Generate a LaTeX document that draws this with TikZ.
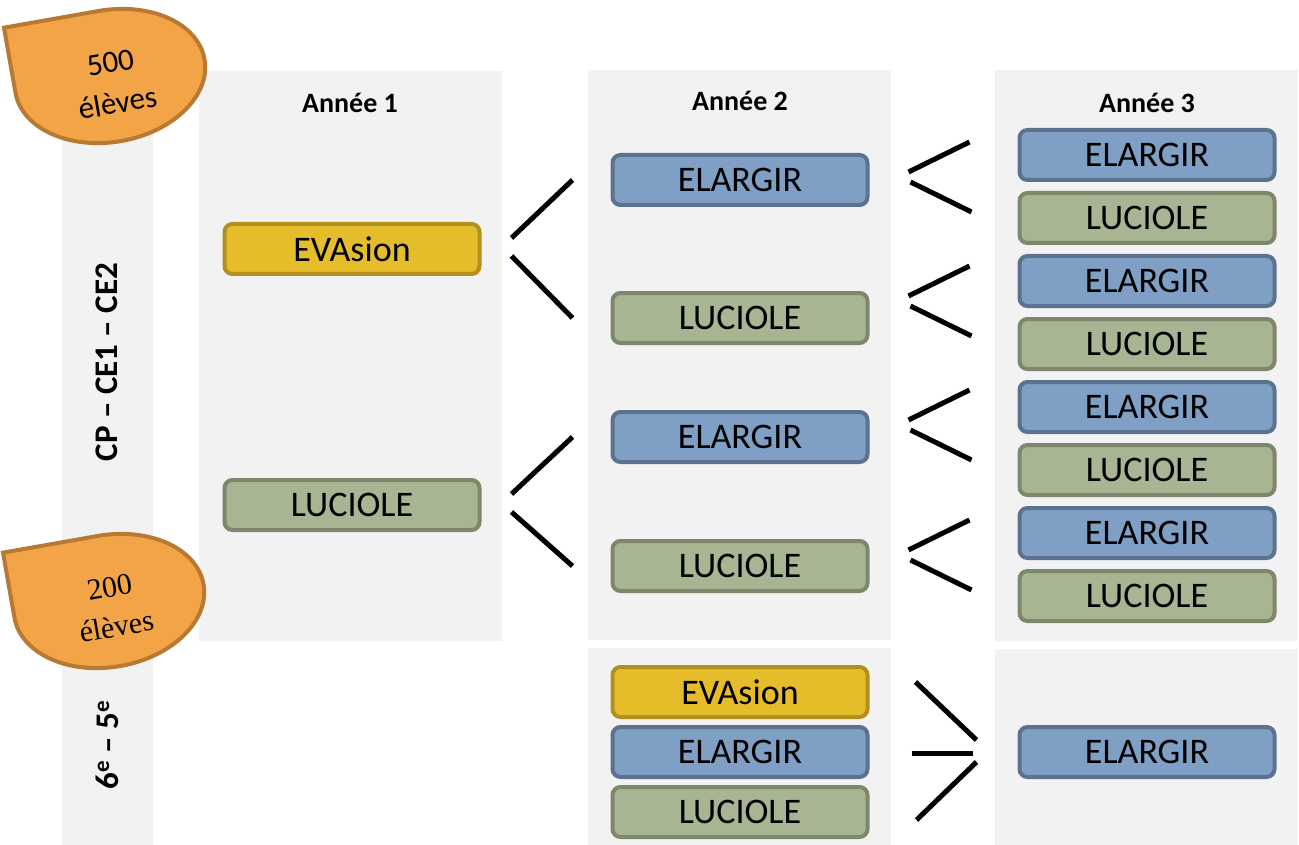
\documentclass[tikz,border=0pt]{standalone}
\usepackage{fontspec}
\setmainfont{Carlito}
\newfontfamily\serifbadge{Liberation Serif}
\usetikzlibrary{positioning,calc}

\definecolor{panelgray}{HTML}{F2F2F2}
\definecolor{elargirfill}{HTML}{7F9FC4}
\definecolor{elargirline}{HTML}{5C7390}
\definecolor{lucfill}{HTML}{A7B592}
\definecolor{lucline}{HTML}{7C876B}
\definecolor{evafill}{HTML}{E5BC2A}
\definecolor{evaline}{HTML}{B28F1E}
\definecolor{badgefill}{HTML}{F2A446}
\definecolor{badgeline}{HTML}{B87A32}

\begin{document}
\begin{tikzpicture}[x=1pt,y=-1pt,line width=5pt,node distance=63pt,
    box/.style={rounded corners=8pt,line width=4pt,minimum width=255pt,minimum height=50pt,inner sep=0pt,font=\fontsize{36}{40}\selectfont},
    elargir/.style={box,draw=elargirline,fill=elargirfill},
    luciole/.style={box,draw=lucline,fill=lucfill},
    evasion/.style={box,draw=evaline,fill=evafill},
    head/.style={font=\fontsize{28}{32}\selectfont\bfseries},
    side/.style={rotate=90,font=\fontsize{33}{36}\selectfont\bfseries},
    badge/.style={draw=badgeline,fill=badgefill,line width=4pt}]

    \useasboundingbox (0,0) rectangle (1299,845);

    % panels
    \fill[panelgray] (62,72) rectangle (153,845);
    \fill[panelgray] (199,71) rectangle (502,641);
    \fill[panelgray] (588,70) rectangle (891,640);
    \fill[panelgray] (995,70) rectangle (1298,641);
    \fill[panelgray] (588,648) rectangle (891,845);
    \fill[panelgray] (995,649) rectangle (1298,845);

    % headers
    \node[head] (h1) at (350,103) {Année 1};
    \node[head] (h2) at (740,101) {Année 2};
    \node[head] (h3) at (1147,103) {Année 3};

    \node[side] (cyc1) at (107,362) {CP – CE1 – CE2};
    \node[side] (cyc2) at (107,745) {6\textsuperscript{e} – 5\textsuperscript{e}};

    % year 1
    \node[evasion] (ev1) at (352,249) {EVAsion};
    \node[luciole] (lu1) at (352,505) {LUCIOLE};

    % year 2
    \node[elargir] (el2a) at (740,180) {ELARGIR};
    \node[luciole] (lu2a) at (740,318) {LUCIOLE};
    \node[elargir] (el2b) at (740,437) {ELARGIR};
    \node[luciole] (lu2b) at (740,566) {LUCIOLE};

    % year 3
    \node[elargir] (el3a) at (1147,155) {ELARGIR};
    \node[luciole] (lu3a) [below of = el3a] {LUCIOLE};
    \node[elargir] (el3b) [below of = lu3a] {ELARGIR};
    \node[luciole] (lu3b) [below of = el3b] {LUCIOLE};
    \node[elargir] (el3c) [below of = lu3b] {ELARGIR};
    \node[luciole] (lu3c) [below of = el3c] {LUCIOLE};
    \node[elargir] (el3d) [below of = lu3c] {ELARGIR};
    \node[luciole] (lu3d) [below of = el3d] {LUCIOLE};

    % 6e - 5e
    \node[evasion] (ev2) at (740,692) {EVAsion};
    \node[elargir] (el2c) [below of = ev2, node distance=60pt] {ELARGIR};
    \node[luciole] (lu2c) [below of = el2c, node distance=60pt] {LUCIOLE};
    \node[elargir] (el3e) at (1147,752) {ELARGIR};

    % forks
    \draw ($(ev1.east)+(30,-11)$) -- ($(el2a.west)+(-38,0)$);
    \draw ($(ev1.east)+(30,7)$) -- ($(lu2a.west)+(-38,0)$);
    \draw ($(lu1.east)+(30,-11)$) -- ($(el2b.west)+(-38,0)$);
    \draw ($(lu1.east)+(30,7)$) -- ($(lu2b.west)+(-38,0)$);

    \foreach \n/\d in {el2a/-3,lu2a/-17,el2b/-12,lu2b/-11}{
        \draw ($(\n.east)+(39,\d-5)$) -- ++(61,-30);
        \draw ($(\n.east)+(41,\d+5)$) -- ++(61,30);
    }

    \draw ($(el2c.east)+(46,-70)$) -- ++(61,58);
    \draw ($(el2c.east)+(42,1)$) -- ++(61,0);
    \draw ($(el2c.east)+(47,68)$) -- ++(60,-58);

    % badges
    \begin{scope}[shift={(110,76)},rotate=10]
        \draw[badge] (-96,-66) -- (0,-66) arc[start angle=90,end angle=-180,x radius=96pt,y radius=66pt] -- cycle;
    \end{scope}
    \node[rotate=10,align=center,font=\fontsize{31}{41}\selectfont] (b500) at (114,83) {500\\élèves};

    \begin{scope}[shift={(109,601)},rotate=10]
        \draw[badge] (-96,-66) -- (0,-66) arc[start angle=90,end angle=-180,x radius=96pt,y radius=66pt] -- cycle;
    \end{scope}
    \node[rotate=10,align=center,font=\serifbadge\fontsize{30}{40}\selectfont] (b200) at (113,607) {200\\élèves};
\end{tikzpicture}
\end{document}
